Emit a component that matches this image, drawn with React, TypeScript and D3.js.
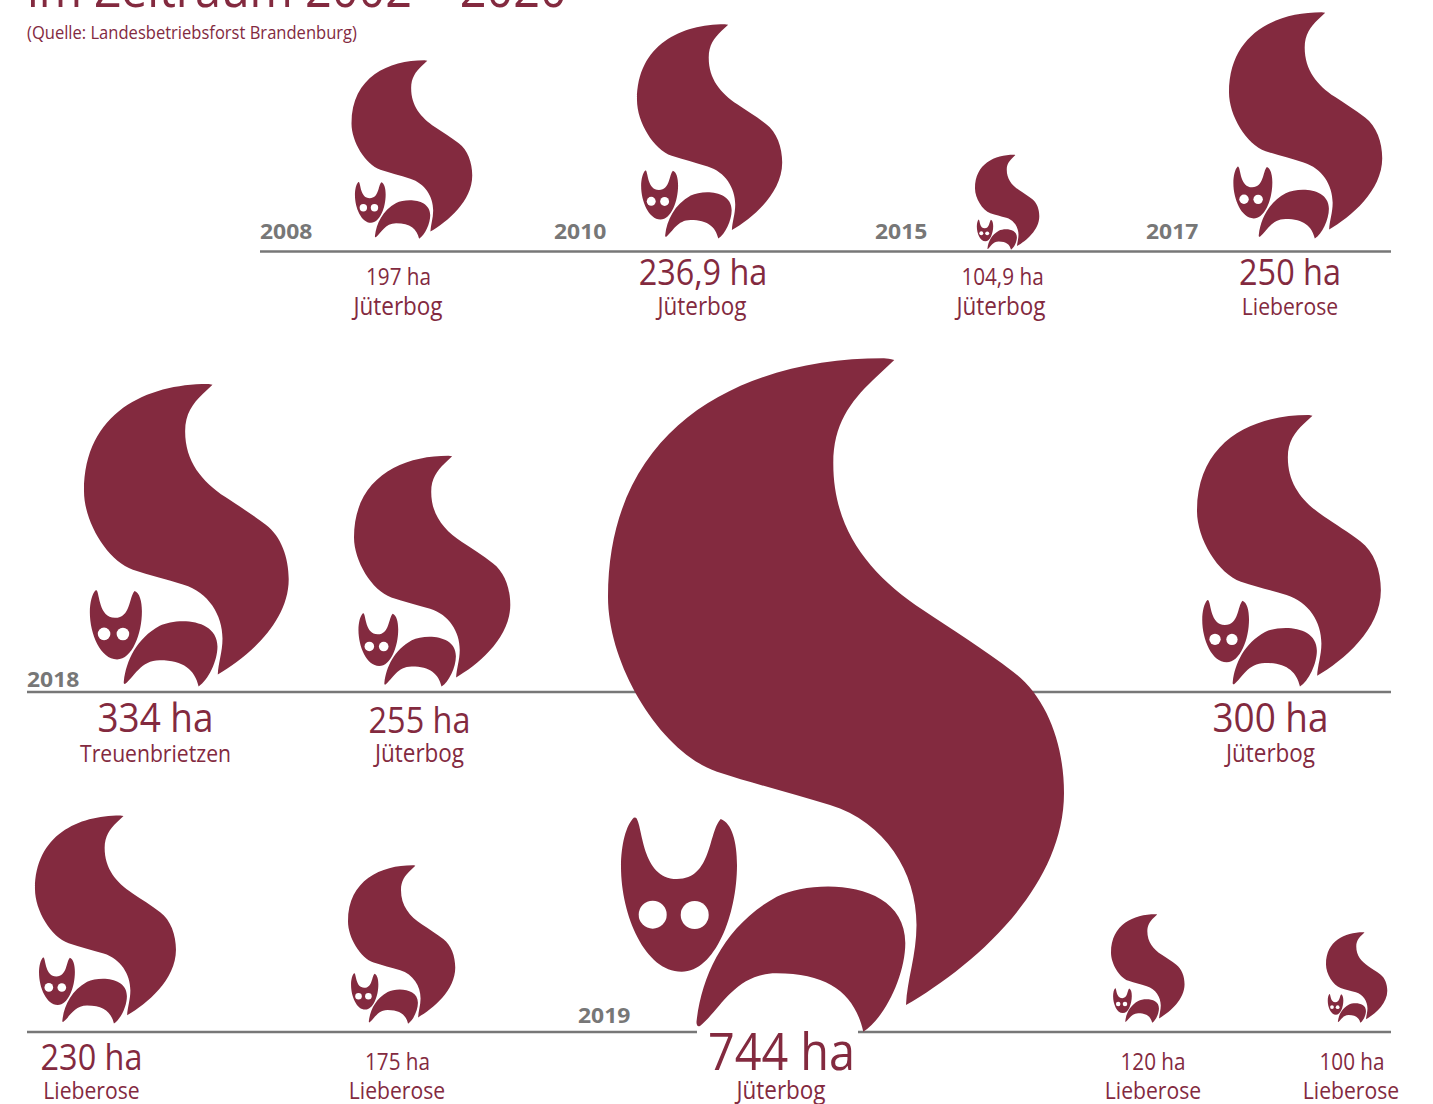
import React from "react";
import * as d3 from "d3";

// Burnt area per fire, in reading order
const years = ["2008", "2010", "2015", "2017", "2018", "", "2019", "", "", "", "", ""];
const hectares = [197, 236.9, 104.9, 250, 334, 255, 744, 300, 230, 175, 120, 100];
const places = [
  "Jüterbog", "Jüterbog", "Jüterbog", "Lieberose", "Treuenbrietzen", "Jüterbog",
  "Jüterbog", "Jüterbog", "Lieberose", "Lieberose", "Lieberose", "Lieberose",
];
const haLabels = [
  "197 ha", "236,9 ha", "104,9 ha", "250 ha", "334 ha", "255 ha",
  "744 ha", "300 ha", "230 ha", "175 ha", "120 ha", "100 ha",
];

// Layout of each fox and its captions, index-aligned with the lists above
const foxLeft = [351.5, 637, 975, 1229, 84, 354, 608, 1197, 35, 348, 1111, 1326];
const foxBottom = [239, 239, 250, 239, 687, 687, 1033, 687, 1024, 1024, 1023, 1023];
const haCenter = [398.5, 703, 1002.5, 1290, 155.5, 419.5, 781.5, 1270.5, 91.5, 397.5, 1153, 1352];
const haBaseline = [285, 285, 285, 285, 732, 733, 1069.5, 732, 1070, 1069.5, 1069.5, 1069.5];
const haSize = [23, 36, 23, 36, 41, 36, 52, 41, 36, 23, 23, 23];
const placeCenter = [398, 702, 1001, 1290, 155.5, 419.5, 781, 1270.5, 91.5, 397, 1153, 1351];
const placeBaseline = [314.5, 314.5, 314.5, 314.5, 761.5, 761.5, 1098.5, 761.5, 1098.5, 1098.5, 1098.5, 1098.5];
const placeSize = [25, 25, 25, 23.5, 23.5, 25, 25, 25, 23.5, 23.5, 23.5, 23.5];
const yearLeft = [260, 554, 875, 1146, 27, 0, 578, 0, 0, 0, 0, 0];
const yearBaseline = [239, 239, 239, 239, 687, 0, 1023, 0, 0, 0, 0, 0];

const rules = [
  { y: 251.5, x1: 260, x2: 1391 },
  { y: 692, x1: 27, x2: 1391 },
  { y: 1032, x1: 27, x2: 1391 },
];

const WINE = "#832a3f";
const GREY = "#777777";
const FONT = "'Open Sans', sans-serif";
const CONDENSE = 0.9;

// Fox pictogram, outlined at the size of the largest fire.
// Its lower left corner sits at GLYPH_X, GLYPH_Y.
const GLYPH_X = 608;
const GLYPH_Y = 1033;
const TAIL =
  "M884,358.3 C750,358 608,420 608,597 C608,665 660,752 717,771.7 C755,784 790,793 830,805 " +
  "C885,822 916.5,872 916.5,925 C916.5,955 907,980 906,1005 C970,968 1064,890 1064,793 " +
  "C1064,745 1047,697 1013,671.7 C985,650 950,628 923,610 C870,575 833,530 833.3,463 " +
  "C833.3,425 850,402 873,380 L894.3,360 C890,359 887,358.4 884,358.3 Z";
const BODY =
  "M696.7,1020 C702,975 725,925 776.7,896.7 C815,878 905.3,880 905.3,943 C905.3,975 885,1018 863.3,1031.7 " +
  "C855,995 830,973.3 776.7,973.3 C735,973 720,1010 700,1026 C697,1027.5 696,1024 696.7,1020 Z";
const HEAD =
  "M636,817.7 C643,825 641,879 677,879 C712,879 708,833 720.7,819 C732,823 737,842 737,865 " +
  "C737,915 715,971.7 681.7,971.7 C645,971.7 621,915 621,866.7 C621,845 626,825 634,817.5 Z";
const EYES = [
  { cx: 652.7, cy: 914.7, r: 14 },
  { cx: 694.7, cy: 915, r: 14 },
];

// Fox height and width grow linearly with the burnt area
const foxScale = d3.scaleLinear().domain([0, d3.max(hectares) as number]).range([0, 1]);

function Caption({ x, y, size, children }: { x: number; y: number; size: number; children: React.ReactNode }) {
  return (
    <text
      transform={`translate(${x},${y}) scale(${CONDENSE},1)`}
      textAnchor="middle"
      fontFamily={FONT}
      fontSize={size}
      fill={WINE}
    >
      {children}
    </text>
  );
}

export default function App() {
  return (
    <svg
      width={1433}
      height={1104}
      viewBox="0 0 1433 1104"
      style={{ position: "absolute", left: 0, top: 0, background: "#fff" }}
    >
      <text
        transform={`translate(27,7) scale(${CONDENSE},1)`}
        fontFamily={FONT}
        fontSize={52}
        fill={WINE}
      >
        im Zeitraum 2002 – 2020
      </text>
      <text
        transform="translate(27,39) scale(0.92,1)"
        fontFamily={FONT}
        fontSize={18}
        fill={WINE}
      >
        (Quelle: Landesbetriebsforst Brandenburg)
      </text>

      {rules.map((r) => (
        <line key={r.y} x1={r.x1} x2={r.x2} y1={r.y} y2={r.y} stroke={GREY} strokeWidth={2.5} />
      ))}

      {hectares.map((ha, i) => {
        const k = foxScale(ha);
        return (
          <g
            key={i}
            transform={`translate(${foxLeft[i]},${foxBottom[i]}) scale(${k}) translate(${-GLYPH_X},${-GLYPH_Y})`}
          >
            <path d={TAIL} fill={WINE} />
            <path d={BODY} fill={WINE} />
            <path d={HEAD} fill={WINE} />
            {EYES.map((e) => (
              <circle key={e.cx} cx={e.cx} cy={e.cy} r={e.r} fill="#fff" />
            ))}
          </g>
        );
      })}

      {/* Clear strip under the largest caption, cutting the rule beneath the fox */}
      <rect x={697} y={1030} width={161} height={40} fill="#fff" />

      {years.map((year, i) =>
        year ? (
          <text
            key={year}
            transform={`translate(${yearLeft[i]},${yearBaseline[i]}) scale(1.04,1)`}
            fontFamily={FONT}
            fontWeight={700}
            fontSize={22}
            fill={GREY}
          >
            {year}
          </text>
        ) : null
      )}

      {hectares.map((_, i) => (
        <g key={i}>
          <Caption x={haCenter[i]} y={haBaseline[i]} size={haSize[i]}>
            {haLabels[i]}
          </Caption>
          <Caption x={placeCenter[i]} y={placeBaseline[i]} size={placeSize[i]}>
            {places[i]}
          </Caption>
        </g>
      ))}
    </svg>
  );
}
